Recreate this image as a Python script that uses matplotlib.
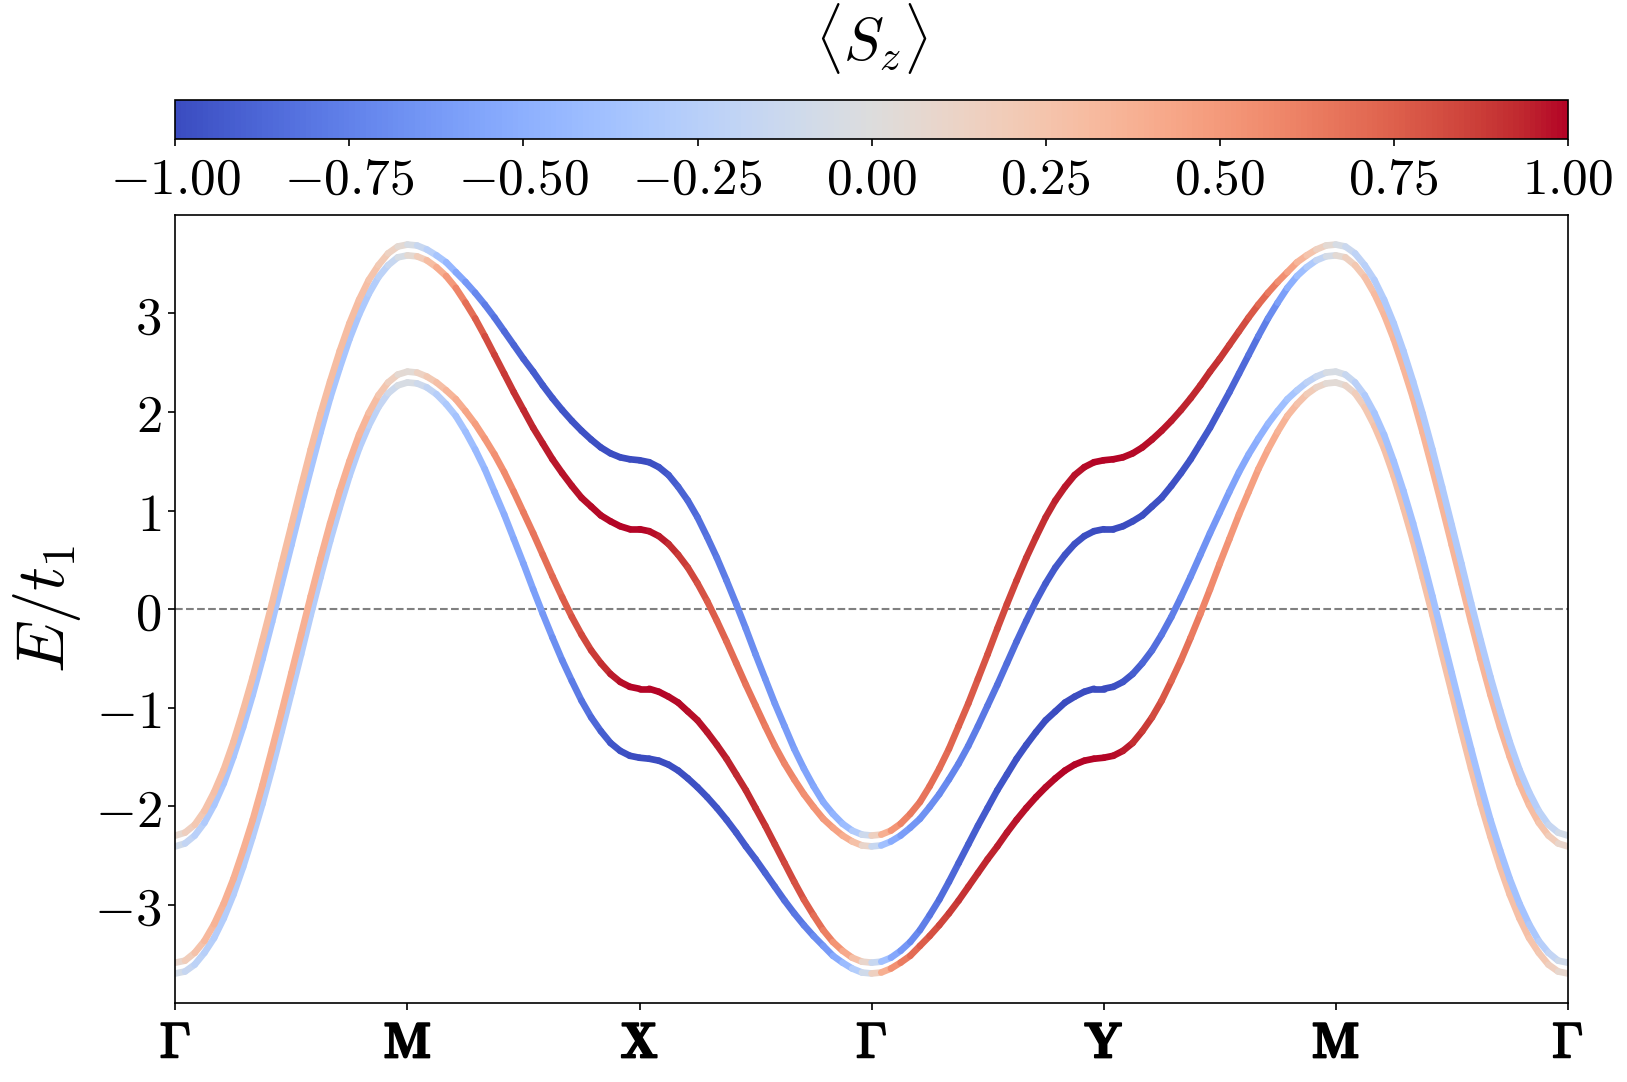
import numpy as np
import matplotlib
matplotlib.use('Agg')
import matplotlib.pyplot as plt
import matplotlib.patheffects as pe
from matplotlib.collections import LineCollection
from matplotlib.colors import Normalize
from matplotlib.cm import ScalarMappable
from matplotlib.ticker import FuncFormatter

plt.rcParams['mathtext.fontset'] = 'cm'

# high-symmetry path labels
k_labels = [r'$\mathbf{\Gamma}$', r'$\mathbf{M}$', r'$\mathbf{X}$', r'$\mathbf{\Gamma}$',
            r'$\mathbf{Y}$', r'$\mathbf{M}$', r'$\mathbf{\Gamma}$']

# band energies E/t1 along Γ-M-X-Γ-Y-M-Γ, band1 = lowest
band4 = [-2.30, -2.27, -2.19, -2.05, -1.86, -1.63, -1.35, -1.03, -0.69, -0.32, 0.06, 0.46, 0.85,
         1.24, 1.62, 1.98, 2.31, 2.62, 2.90, 3.14, 3.34, 3.49, 3.61, 3.68, 3.70,
         3.69, 3.65, 3.59, 3.52, 3.42, 3.32, 3.21, 3.09, 2.96, 2.82, 2.68, 2.54,
         2.41, 2.27, 2.14, 2.02, 1.91, 1.81, 1.72, 1.64, 1.58, 1.54, 1.52, 1.51,
         1.49, 1.44, 1.36, 1.24, 1.10, 0.93, 0.73, 0.52, 0.29, 0.05, -0.20, -0.46,
         -0.71, -0.96, -1.19, -1.42, -1.62, -1.80, -1.96, -2.08, -2.18, -2.25, -2.29, -2.30,
         -2.29, -2.25, -2.18, -2.08, -1.96, -1.80, -1.62, -1.42, -1.19, -0.96, -0.71, -0.46,
         -0.20, 0.05, 0.29, 0.52, 0.73, 0.93, 1.10, 1.24, 1.36, 1.44, 1.49,
         1.51, 1.52, 1.54, 1.58, 1.64, 1.72, 1.81, 1.91, 2.02, 2.14, 2.27, 2.41,
         2.54, 2.68, 2.82, 2.96, 3.09, 3.21, 3.32, 3.42, 3.52, 3.59, 3.65, 3.69,
         3.70, 3.68, 3.61, 3.49, 3.34, 3.14, 2.90, 2.62, 2.31, 1.98, 1.62, 1.24, 0.85,
         0.46, 0.06, -0.32, -0.69, -1.03, -1.35, -1.63, -1.86, -2.05, -2.19, -2.27, -2.30]
band3 = [-2.41, -2.38, -2.30, -2.17, -1.99, -1.77, -1.50, -1.20, -0.87, -0.51, -0.13, 0.26, 0.65,
         1.04, 1.42, 1.79, 2.14, 2.45, 2.74, 2.99, 3.20, 3.37, 3.49, 3.57, 3.59,
         3.58, 3.54, 3.47, 3.38, 3.26, 3.11, 2.95, 2.77, 2.58, 2.39, 2.20, 2.02,
         1.84, 1.68, 1.52, 1.38, 1.25, 1.13, 1.04, 0.95, 0.89, 0.84, 0.81, 0.81,
         0.79, 0.74, 0.66, 0.55, 0.42, 0.26, 0.08, -0.12, -0.33, -0.55, -0.77, -0.98,
         -1.19, -1.39, -1.57, -1.73, -1.88, -2.01, -2.13, -2.22, -2.30, -2.36, -2.40, -2.41,
         -2.40, -2.36, -2.30, -2.22, -2.13, -2.01, -1.88, -1.73, -1.57, -1.39, -1.19, -0.98,
         -0.77, -0.55, -0.33, -0.12, 0.08, 0.26, 0.42, 0.55, 0.66, 0.74, 0.79,
         0.81, 0.81, 0.84, 0.89, 0.95, 1.04, 1.13, 1.25, 1.38, 1.52, 1.68, 1.84,
         2.02, 2.20, 2.39, 2.58, 2.77, 2.95, 3.11, 3.26, 3.38, 3.47, 3.54, 3.58,
         3.59, 3.57, 3.49, 3.37, 3.20, 2.99, 2.74, 2.45, 2.14, 1.79, 1.42, 1.04, 0.65,
         0.26, -0.13, -0.51, -0.87, -1.20, -1.50, -1.77, -1.99, -2.17, -2.30, -2.38, -2.41]
band2 = [-3.59, -3.57, -3.49, -3.37, -3.20, -2.99, -2.74, -2.45, -2.14, -1.79, -1.42, -1.04, -0.65,
         -0.26, 0.13, 0.51, 0.87, 1.20, 1.50, 1.77, 1.99, 2.17, 2.30, 2.38, 2.41,
         2.40, 2.36, 2.30, 2.22, 2.13, 2.01, 1.88, 1.73, 1.57, 1.39, 1.19, 0.98,
         0.77, 0.55, 0.33, 0.12, -0.08, -0.26, -0.42, -0.55, -0.66, -0.74, -0.79, -0.81,
         -0.81, -0.84, -0.89, -0.95, -1.04, -1.13, -1.25, -1.38, -1.52, -1.68, -1.84, -2.02,
         -2.20, -2.39, -2.58, -2.77, -2.95, -3.11, -3.26, -3.38, -3.47, -3.54, -3.58, -3.59,
         -3.58, -3.54, -3.47, -3.38, -3.26, -3.11, -2.95, -2.77, -2.58, -2.39, -2.20, -2.02,
         -1.84, -1.68, -1.52, -1.38, -1.25, -1.13, -1.04, -0.95, -0.89, -0.84, -0.81,
         -0.81, -0.79, -0.74, -0.66, -0.55, -0.42, -0.26, -0.08, 0.12, 0.33, 0.55, 0.77,
         0.98, 1.19, 1.39, 1.57, 1.73, 1.88, 2.01, 2.13, 2.22, 2.30, 2.36, 2.40,
         2.41, 2.38, 2.30, 2.17, 1.99, 1.77, 1.50, 1.20, 0.87, 0.51, 0.13, -0.26, -0.65,
         -1.04, -1.42, -1.79, -2.14, -2.45, -2.74, -2.99, -3.20, -3.37, -3.49, -3.57, -3.59]
band1 = [-3.70, -3.68, -3.61, -3.49, -3.34, -3.14, -2.90, -2.62, -2.31, -1.98, -1.62, -1.24, -0.85,
         -0.46, -0.06, 0.32, 0.69, 1.03, 1.35, 1.63, 1.86, 2.05, 2.19, 2.27, 2.30,
         2.29, 2.25, 2.18, 2.08, 1.96, 1.80, 1.62, 1.42, 1.19, 0.96, 0.71, 0.46,
         0.20, -0.05, -0.29, -0.52, -0.73, -0.93, -1.10, -1.24, -1.36, -1.44, -1.49, -1.51,
         -1.52, -1.54, -1.58, -1.64, -1.72, -1.81, -1.91, -2.02, -2.14, -2.27, -2.41, -2.54,
         -2.68, -2.82, -2.96, -3.09, -3.21, -3.32, -3.42, -3.52, -3.59, -3.65, -3.69, -3.70,
         -3.69, -3.65, -3.59, -3.52, -3.42, -3.32, -3.21, -3.09, -2.96, -2.82, -2.68, -2.54,
         -2.41, -2.27, -2.14, -2.02, -1.91, -1.81, -1.72, -1.64, -1.58, -1.54, -1.52,
         -1.51, -1.49, -1.44, -1.36, -1.24, -1.10, -0.93, -0.73, -0.52, -0.29, -0.05, 0.20,
         0.46, 0.71, 0.96, 1.19, 1.42, 1.62, 1.80, 1.96, 2.08, 2.18, 2.25, 2.29,
         2.30, 2.27, 2.19, 2.05, 1.86, 1.63, 1.35, 1.03, 0.69, 0.32, -0.06, -0.46, -0.85,
         -1.24, -1.62, -1.98, -2.31, -2.62, -2.90, -3.14, -3.34, -3.49, -3.61, -3.68, -3.70]

# <Sz> of each band along the same path
sz4 = [0.05, 0.12, 0.20, 0.25, 0.28, 0.29, 0.30, 0.30, 0.30, 0.30, 0.30, 0.30, 0.30,
       0.30, 0.30, 0.30, 0.30, 0.30, 0.30, 0.30, 0.27, 0.23, 0.18, 0.10, 0.00,
       -0.10, -0.20, -0.30, -0.40, -0.50, -0.60, -0.68, -0.75, -0.80, -0.85, -0.88, -0.90,
       -0.92, -0.93, -0.94, -0.95, -0.96, -0.97, -0.98, -0.98, -0.99, -0.99, -1.00, -1.00,
       -0.99, -0.97, -0.94, -0.91, -0.88, -0.85, -0.82, -0.79, -0.76, -0.73, -0.70, -0.68,
       -0.66, -0.64, -0.62, -0.60, -0.58, -0.56, -0.53, -0.50, -0.45, -0.37, -0.22, 0.00,
       0.30, 0.48, 0.58, 0.63, 0.66, 0.68, 0.70, 0.72, 0.74, 0.76, 0.78, 0.80,
       0.82, 0.84, 0.86, 0.88, 0.90, 0.92, 0.94, 0.96, 0.97, 0.98, 0.99,
       1.00, 1.00, 0.99, 0.99, 0.98, 0.98, 0.97, 0.96, 0.95, 0.94, 0.93, 0.92,
       0.90, 0.88, 0.85, 0.80, 0.75, 0.68, 0.60, 0.50, 0.40, 0.30, 0.20, 0.10,
       0.00, -0.10, -0.18, -0.23, -0.27, -0.30, -0.30, -0.30, -0.30, -0.30, -0.30, -0.30, -0.30,
       -0.30, -0.30, -0.30, -0.30, -0.30, -0.30, -0.29, -0.28, -0.25, -0.20, -0.12, -0.05]
sz3 = [-0.05, -0.14, -0.22, -0.28, -0.32, -0.34, -0.35, -0.35, -0.35, -0.35, -0.35, -0.35, -0.35,
       -0.35, -0.35, -0.35, -0.35, -0.35, -0.35, -0.33, -0.30, -0.25, -0.20, -0.10, 0.00,
       0.12, 0.25, 0.35, 0.45, 0.55, 0.65, 0.73, 0.80, 0.85, 0.88, 0.90, 0.92,
       0.94, 0.95, 0.96, 0.97, 0.97, 0.98, 0.98, 0.99, 0.99, 1.00, 1.00, 1.00,
       0.99, 0.97, 0.94, 0.90, 0.86, 0.82, 0.78, 0.75, 0.72, 0.70, 0.68, 0.66,
       0.64, 0.62, 0.60, 0.58, 0.56, 0.54, 0.51, 0.48, 0.43, 0.35, 0.20, 0.00,
       -0.30, -0.48, -0.58, -0.63, -0.66, -0.68, -0.70, -0.72, -0.74, -0.76, -0.78, -0.80,
       -0.82, -0.84, -0.86, -0.88, -0.90, -0.92, -0.94, -0.96, -0.97, -0.98, -0.99,
       -1.00, -1.00, -1.00, -0.99, -0.99, -0.98, -0.98, -0.97, -0.97, -0.96, -0.95, -0.94,
       -0.92, -0.90, -0.88, -0.85, -0.80, -0.73, -0.65, -0.55, -0.45, -0.35, -0.25, -0.12,
       0.00, 0.10, 0.20, 0.25, 0.30, 0.33, 0.35, 0.35, 0.35, 0.35, 0.35, 0.35, 0.35,
       0.35, 0.35, 0.35, 0.35, 0.35, 0.35, 0.34, 0.32, 0.28, 0.22, 0.14, 0.05]
sz2 = [0.05, 0.14, 0.22, 0.30, 0.35, 0.37, 0.38, 0.38, 0.38, 0.38, 0.38, 0.38, 0.38,
       0.38, 0.38, 0.38, 0.38, 0.38, 0.38, 0.36, 0.33, 0.27, 0.20, 0.10, 0.00,
       0.09, 0.18, 0.25, 0.32, 0.37, 0.42, 0.46, 0.50, 0.53, 0.56, 0.59, 0.62,
       0.65, 0.68, 0.71, 0.74, 0.78, 0.82, 0.86, 0.90, 0.94, 0.97, 0.99, 1.00,
       1.00, 1.00, 0.99, 0.99, 0.98, 0.98, 0.97, 0.96, 0.95, 0.94, 0.93, 0.92,
       0.90, 0.88, 0.85, 0.82, 0.78, 0.73, 0.66, 0.58, 0.48, 0.36, 0.20, 0.00,
       -0.30, -0.48, -0.60, -0.68, -0.74, -0.79, -0.83, -0.86, -0.89, -0.91, -0.93, -0.94,
       -0.95, -0.96, -0.97, -0.98, -0.98, -0.99, -0.99, -1.00, -1.00, -1.00, -1.00,
       -1.00, -0.99, -0.97, -0.94, -0.90, -0.86, -0.82, -0.78, -0.74, -0.71, -0.68, -0.65,
       -0.62, -0.59, -0.56, -0.53, -0.50, -0.46, -0.42, -0.37, -0.32, -0.25, -0.18, -0.09,
       0.00, -0.10, -0.20, -0.27, -0.33, -0.36, -0.38, -0.38, -0.38, -0.38, -0.38, -0.38, -0.38,
       -0.38, -0.38, -0.38, -0.38, -0.38, -0.38, -0.37, -0.35, -0.30, -0.22, -0.14, -0.05]
sz1 = [-0.05, -0.12, -0.20, -0.24, -0.27, -0.28, -0.28, -0.28, -0.28, -0.28, -0.28, -0.28, -0.28,
       -0.28, -0.28, -0.28, -0.28, -0.28, -0.28, -0.27, -0.25, -0.20, -0.15, -0.08, 0.00,
       -0.08, -0.15, -0.23, -0.30, -0.34, -0.38, -0.42, -0.45, -0.48, -0.50, -0.52, -0.55,
       -0.58, -0.62, -0.66, -0.70, -0.75, -0.80, -0.85, -0.90, -0.94, -0.97, -0.99, -1.00,
       -1.00, -1.00, -0.99, -0.99, -0.98, -0.98, -0.97, -0.96, -0.95, -0.94, -0.93, -0.92,
       -0.90, -0.88, -0.85, -0.82, -0.78, -0.73, -0.66, -0.58, -0.48, -0.36, -0.20, 0.00,
       0.30, 0.48, 0.60, 0.68, 0.74, 0.79, 0.83, 0.86, 0.89, 0.91, 0.93, 0.94,
       0.95, 0.96, 0.97, 0.98, 0.98, 0.99, 0.99, 1.00, 1.00, 1.00, 1.00,
       1.00, 0.99, 0.97, 0.94, 0.90, 0.85, 0.80, 0.75, 0.70, 0.66, 0.62, 0.58,
       0.55, 0.52, 0.50, 0.48, 0.45, 0.42, 0.38, 0.34, 0.30, 0.23, 0.15, 0.08,
       0.00, 0.08, 0.15, 0.20, 0.25, 0.27, 0.28, 0.28, 0.28, 0.28, 0.28, 0.28, 0.28,
       0.28, 0.28, 0.28, 0.28, 0.28, 0.28, 0.28, 0.27, 0.24, 0.20, 0.12, 0.05]

bands = [band1, band2, band3, band4]
spins = [sz1, sz2, sz3, sz4]

n_seg = len(k_labels) - 1
kpath = np.linspace(0, n_seg, len(band1))
norm = Normalize(vmin=-1, vmax=1)
cmap = plt.get_cmap('coolwarm')

fig = plt.figure(figsize=(16.27, 10.82), dpi=100)
ax = fig.add_axes([0.1078, 0.0730, 0.8558, 0.7283])

for e, s in zip(bands, spins):
    e = np.asarray(e)
    s = np.asarray(s)
    pts = np.column_stack([kpath, e])
    segs = np.stack([pts[:-1], pts[1:]], axis=1)
    lc = LineCollection(segs, cmap=cmap, norm=norm, linewidths=4.8, capstyle='round')
    lc.set_array(0.5 * (s[:-1] + s[1:]))
    ax.add_collection(lc)

ax.axhline(0, color='gray', linestyle='--', linewidth=1.5, zorder=0)

ax.set_xlim(0, n_seg)
ax.set_ylim(-4, 4)
ax.set_xticks(np.arange(n_seg + 1))
ax.set_xticklabels(k_labels, fontsize=36)
for lbl in ax.get_xticklabels():
    lbl.set_path_effects([pe.withStroke(linewidth=1.3, foreground='black')])
ax.set_yticks([-3, -2, -1, 0, 1, 2, 3])
ax.yaxis.set_major_formatter(FuncFormatter(lambda v, p: r'$%d$' % v))
ax.tick_params(axis='y', labelsize=38, length=5, width=1.2, pad=5)
ax.tick_params(axis='x', length=5, width=1.2, pad=7)
ax.set_ylabel(r'$E/t_1$', fontsize=48, labelpad=8)
for sp in ax.spines.values():
    sp.set_linewidth(1.2)

# colourbar on top
cax = fig.add_axes([0.1078, 0.8713, 0.8558, 0.0367])
sm = ScalarMappable(norm=norm, cmap=cmap)
cb = fig.colorbar(sm, cax=cax, orientation='horizontal')
cb.set_ticks(np.linspace(-1, 1, 9))
cax.xaxis.set_major_formatter(FuncFormatter(lambda v, p: r'$%.2f$' % v))
cax.tick_params(labelsize=37, length=5, width=1.2, pad=6)
cb.outline.set_linewidth(1.2)
cax.xaxis.set_label_position('top')
cb.set_label(r'$\langle S_z \rangle$', fontsize=43, labelpad=28)

fig.savefig('out.png', dpi=100)
